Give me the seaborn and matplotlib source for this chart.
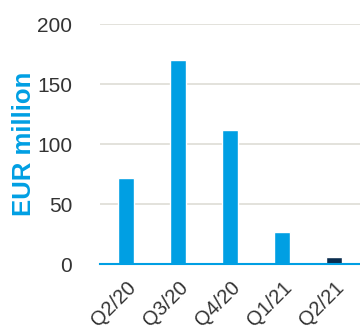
import matplotlib
matplotlib.use("Agg")
import matplotlib.pyplot as plt
import seaborn as sns
import pandas as pd

quarters = ["Q2/20", "Q3/20", "Q4/20", "Q1/21", "Q2/21"]
values = [72, 170, 112, 27, 6]
highlight = ["past", "past", "past", "past", "current"]
yticks = [0, 50, 100, 150, 200]

sns.set_theme(style="white")
plt.rcParams["font.family"] = ["Liberation Sans", "DejaVu Sans"]

df = pd.DataFrame({"quarter": quarters, "value": values, "group": highlight})

fig = plt.figure(figsize=(3.6, 3.29), dpi=100)
ax = fig.add_axes([100 / 360, (329 - 264) / 329, 260 / 360, 240 / 329])

sns.barplot(data=df, x="quarter", y="value", hue="group",
            palette={"past": "#009FE3", "current": "#0A2D4F"},
            dodge=False, width=0.32, ax=ax, legend=False, saturation=1)

ax.set_xlim(-0.5, 4.5)
ax.set_ylim(0, 200)
ax.set_yticks(yticks)
ax.set_yticklabels([str(t) for t in yticks])
ax.yaxis.grid(True, color="#DEDDD6", linewidth=1.2)
ax.set_axisbelow(True)
for s in ["top", "right", "left"]:
    ax.spines[s].set_visible(False)
ax.spines["bottom"].set_color("#009FE3")
ax.spines["bottom"].set_linewidth(1.5)
ax.spines["bottom"].set_zorder(5)

ax.tick_params(axis="y", length=0, pad=20, labelsize=15, labelcolor="#333333")
ax.tick_params(axis="x", length=0, pad=10, labelsize=14.5, labelcolor="#333333")
for lbl in ax.get_xticklabels():
    lbl.set_rotation(45)
    lbl.set_ha("right")
    lbl.set_va("top")
    lbl.set_rotation_mode("anchor")

ax.set_xlabel("")
ax.set_ylabel("EUR million", fontsize=18.5, fontweight="bold", color="#009FE3", labelpad=0.5)

fig.savefig("out.png", dpi=100)
